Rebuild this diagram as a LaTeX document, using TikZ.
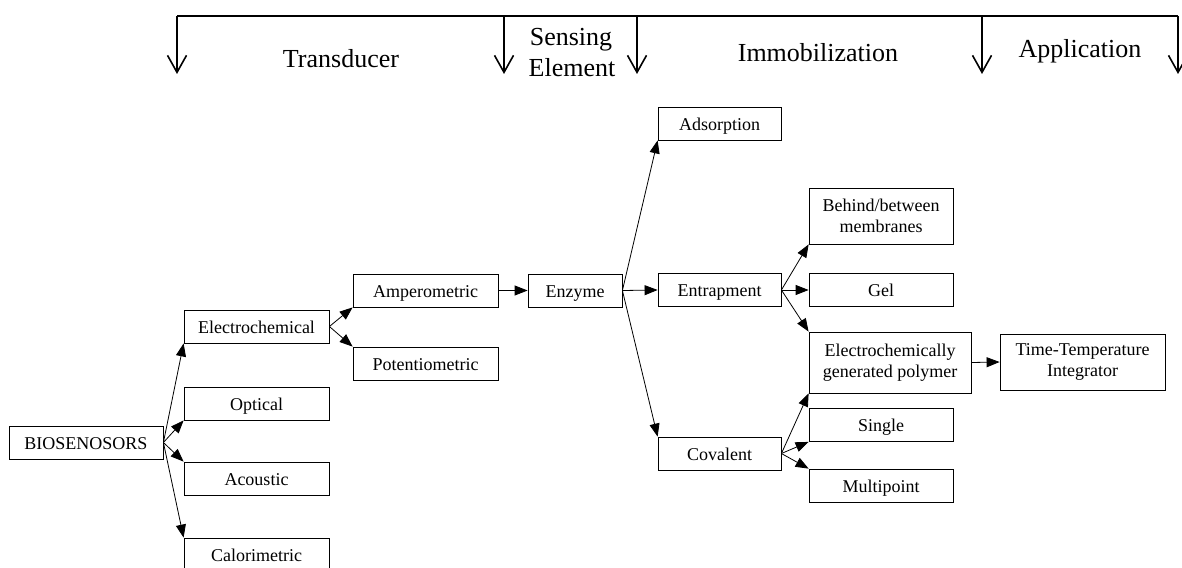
\documentclass[tikz,border=0pt]{standalone}
\usepackage{fontspec}
\setmainfont{Liberation Serif}
\usetikzlibrary{arrows.meta}
\begin{document}
\begin{tikzpicture}[x=1pt,y=-1pt,
  box/.style={draw, line width=0.8pt, inner sep=0pt, align=center,
    font=\fontsize{18}{21}\selectfont},
  sbox/.style={box, text height=13pt, text depth=0pt},
  conn/.style={line width=0.8pt, -{Triangle[length=13pt,width=10pt]}},
  hdr/.style={line width=1.6pt},
  tick/.style={hdr, -{Straight Barb[length=17pt,width=19pt,line width=1.6pt]}},
  htext/.style={anchor=base, inner sep=0pt, font=\fontsize{26}{31}\selectfont}]
\useasboundingbox (0,0) rectangle (1182,567);
% header bracket
\coordinate (h0) at (177,16);
\coordinate (h1) at (1178,16);
\coordinate (t0) at (177,74);
\coordinate (t1) at (504,74);
\coordinate (t2) at (637,74);
\coordinate (t3) at (982,74);
\coordinate (t4) at (1178,74);
\coordinate (u1) at (504,16);
\coordinate (u2) at (637,16);
\coordinate (u3) at (982,16);
\draw[hdr] (h0) -- (h1);
\draw[tick] (h0) -- (t0);
\draw[tick] (u1) -- (t1);
\draw[tick] (u2) -- (t2);
\draw[tick] (u3) -- (t3);
\draw[tick] (h1) -- (t4);
\node[htext] (lt) at (341,68) {Transducer};
\node[htext] (ls1) at (571,46) {Sensing};
\node[htext] (ls2) at (572,77) {Element};
\node[htext] (li) at (818,62) {Immobilization};
\node[htext] (la) at (1080,58) {Application};
% boxes
\node[sbox, minimum width=154pt, minimum height=33pt] (bio) at (86,442.5) {BIOSENOSORS};
\node[sbox, minimum width=145pt, minimum height=33pt] (elec) at (256.5,326.5) {Electrochemical};
\node[sbox, minimum width=145pt, minimum height=33pt] (opt) at (256.5,403.5) {Optical};
\node[sbox, minimum width=145pt, minimum height=33pt] (acou) at (256.5,478.5) {Acoustic};
\node[sbox, minimum width=145pt, minimum height=33pt] (calo) at (256.5,554.5) {Calorimetric};
\node[sbox, minimum width=145pt, minimum height=33pt] (amp) at (425.5,290.5) {Amperometric};
\node[sbox, minimum width=145pt, minimum height=33pt] (pot) at (425.5,363.5) {Potentiometric};
\node[sbox, minimum width=94pt, minimum height=33pt] (enz) at (575,290.5) {Enzyme};
\node[sbox, minimum width=123pt, minimum height=33pt] (ads) at (719.5,123.5) {Adsorption};
\node[sbox, minimum width=123pt, minimum height=33pt] (ent) at (719.5,290) {Entrapment};
\node[sbox, minimum width=123pt, minimum height=33pt] (cov) at (719.5,453.5) {Covalent};
\node[box, minimum width=144pt, minimum height=56pt] (beh) at (881,216) {Behind/between\\membranes};
\node[sbox, minimum width=144pt, minimum height=33pt] (gel) at (881,290) {Gel};
\node[box, minimum width=162pt, minimum height=61pt] (ecp) at (890,362.5) {Electrochemically\\generated polymer};
\node[sbox, minimum width=144pt, minimum height=33pt] (sin) at (881,425) {Single};
\node[sbox, minimum width=144pt, minimum height=33pt] (mul) at (881,485.5) {Multipoint};
\node[box, minimum width=165pt, minimum height=56pt] (tti) at (1082.5,362) {Time-Temperature\\Integrator};
% connectors
\draw[conn] (bio.east) -- (elec.south west);
\draw[conn] (bio.east) -- (opt.south west);
\draw[conn] (bio.east) -- (acou.north west);
\draw[conn] (bio.east) -- (calo.north west);
\draw[conn] (elec.east) -- (amp.south west);
\draw[conn] (elec.east) -- (pot.north west);
\draw[conn] (amp.east) -- (enz.west);
\draw[conn] (enz.east) -- (ads.south west);
\draw[conn] (enz.east) -- (ent.west);
\draw[conn] (enz.east) -- (cov.north west);
\draw[conn] (ent.east) -- (beh.south west);
\draw[conn] (ent.east) -- (gel.west);
\draw[conn] (ent.east) -- (ecp.north west);
\draw[conn] (cov.east) -- (ecp.south west);
\draw[conn] (cov.east) -- (sin.south west);
\draw[conn] (cov.east) -- (mul.north west);
\draw[conn] (ecp.east) -- (tti.west);
\end{tikzpicture}
\end{document}
